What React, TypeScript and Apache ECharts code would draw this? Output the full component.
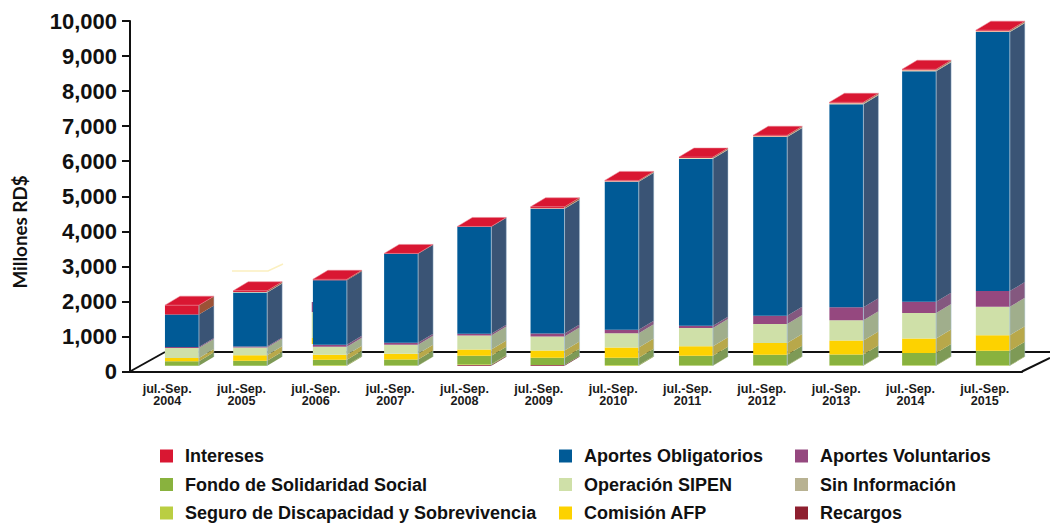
import React, { useEffect, useRef } from "react";
import * as echarts from "echarts";

const categories = ["2004","2005","2006","2007","2008","2009","2010","2011","2012","2013","2014","2015"];
const recargos = [0,0,0,0,25,25,0,0,0,0,0,0];
const seguro = [0,0,20,10,20,0,20,10,15,15,15,15];
const fondo = [130,143,150,170,240,203,208,275,300,308,347,413];
const comision = [95,160,143,162,180,209,295,276,333,400,418,447];
const operacion = [285,220,228,257,400,400,409,514,542,580,723,809];
const voluntarios = [25,28,57,57,48,86,95,66,238,371,323,447];
const obligatorios = [930,1540,1845,2540,3053,3558,4223,4765,5100,5790,6580,7390];
const sinInformacion = [0,15,0,0,0,15,15,20,20,25,25,25];
const intereses = [265,35,25,10,10,40,25,30,30,30,30,30];

const FONT = '"Liberation Sans", Arial, sans-serif';
const DX = 15, DY = 9, BAR = 34;
// The reference's bars are not evenly spaced: horizontal nudge per bar, in pixels.
const barNudge = [0, -5.5, 0.5, -2, -2.5, -3, -2.5, -2, -1.5, 1, 0, 0];

const stack = [
  { name: "Recargos", values: recargos, color: "#8E1F2F", side: "#6E2A30" },
  { name: "Seguro de Discapacidad y Sobrevivencia", values: seguro, color: "#BACE42", side: "#8FA048" },
  { name: "Fondo de Solidaridad Social", values: fondo, color: "#89B23E", side: "#7E9A56" },
  { name: "Comisión AFP", values: comision, color: "#FDD200", side: "#B8A84A" },
  { name: "Operación SIPEN", values: operacion, color: "#CFE0A8", side: "#A0AE8C" },
  { name: "Aportes Voluntarios", values: voluntarios, color: "#95487F", side: "#84587F" },
  { name: "Aportes Obligatorios", values: obligatorios, color: "#005A96", side: "#3A5475" },
  { name: "Sin Información", values: sinInformacion, color: "#B8B292", bar: "#EFE3B4", side: "#B8AE8C" },
  { name: "Intereses", values: intereses, color: "#D91732", side: "#9C5236" },
];
const legendCols = [
  { left: 160, names: ["Intereses", "Fondo de Solidaridad Social", "Seguro de Discapacidad y Sobrevivencia"] },
  { left: 559, names: ["Aportes Obligatorios", "Operación SIPEN", "Comisión AFP"] },
  { left: 795, names: ["Aportes Voluntarios", "Sin Información", "Recargos"] },
];

function buildSeries() {
  const lows = categories.map(() => 0);
  return stack.map((s, si) => {
    const data = s.values.map((v, i) => {
      const row = [i, lows[i], lows[i] + v];
      lows[i] += v;
      return row;
    });
    const isTop = si === stack.length - 1;
    return {
      type: "custom",
      name: s.name,
      xAxisIndex: 1,
      yAxisIndex: 1,
      z: 3,
      itemStyle: { color: s.color },
      encode: { x: 0, y: [1, 2] },
      data,
      silent: true,
      renderItem: (_p: any, api: any) => {
        const i = api.value(0), lo = api.value(1), hi = api.value(2);
        if (hi <= lo) return { type: "group", children: [] };
        const [cx0, y0] = api.coord([i, lo]);
        const [, y1] = api.coord([i, hi]);
        const cx = cx0 + barNudge[i];
        const l = cx - BAR / 2, r = cx + BAR / 2;
        const children: any[] = [
          { type: "polygon", shape: { points: [[l, y0], [r, y0], [r, y1], [l, y1]] }, style: { fill: s.bar || s.color } },
          { type: "polygon", shape: { points: [[r, y0], [r + DX, y0 - DY], [r + DX, y1 - DY], [r, y1]] }, style: { fill: s.side } },
          { type: "line", shape: { x1: r, y1: y0, x2: r, y2: y1 }, style: { stroke: "rgba(170,195,215,0.75)", lineWidth: 1 } },
          { type: "line", shape: { x1: r + DX, y1: y0 - DY, x2: r + DX, y2: y1 - DY }, style: { stroke: "rgba(170,195,215,0.45)", lineWidth: 1 } },
        ];
        if (isTop) {
          children.push({
            type: "polygon",
            shape: { points: [[l, y1], [r, y1], [r + DX, y1 - DY], [l + DX, y1 - DY]] },
            style: { fill: s.color, stroke: "rgba(235,130,145,0.7)", lineWidth: 0.75 },
          });
        }
        return { type: "group", children };
      },
    };
  });
}

function seg(x1: number, y1: number, x2: number, y2: number, stroke: string, lineWidth: number) {
  return { type: "line", z: 0, silent: true, shape: { x1, y1, x2, y2 }, style: { stroke, lineWidth } };
}

export default function App() {
  const ref = useRef<HTMLDivElement>(null);
  useEffect(() => {
    document.body.style.margin = "0";
    const chart = echarts.init(ref.current!, undefined, { renderer: "svg" });
    chart.setOption({
      animation: false,
      grid: [
        { left: 130, width: 892, top: 21, height: 350.5 },
        { left: 145.1, width: 884.6, top: 15.3, height: 350.5 },
      ],
      xAxis: [
        {
          type: "category", gridIndex: 0, data: categories,
          axisLine: { lineStyle: { color: "#111", width: 2 } },
          axisTick: { length: 8, lineStyle: { color: "#111", width: 2 } },
          axisLabel: {
            formatter: (v: string) => "jul.-Sep.\n" + v,
            fontFamily: FONT, fontWeight: "bold", fontSize: 12.6, lineHeight: 12, color: "#1a1a1a", margin: 11.5, interval: 0,
          },
        },
        { type: "category", gridIndex: 1, data: categories, show: false },
      ],
      yAxis: [
        {
          type: "value", gridIndex: 0, min: 0, max: 10000, interval: 1000,
          axisLine: { show: true, lineStyle: { color: "#111", width: 2 } },
          axisTick: { show: true, length: 8, lineStyle: { color: "#111", width: 2 } },
          splitLine: { show: false },
          axisLabel: {
            formatter: (v: number) => v.toLocaleString("en-US"),
            fontFamily: FONT, fontWeight: "bold", fontSize: 22, color: "#111", margin: 13,
          },
        },
        { type: "value", gridIndex: 1, min: 0, max: 10000, interval: 1000, show: false },
      ],
      legend: legendCols.map((c) => ({
        left: c.left, top: 447, height: 150, width: 400, padding: 0, orient: "vertical", selectedMode: false,
        itemWidth: 13, itemHeight: 13, itemGap: 10.5, icon: "rect",
        textStyle: { fontFamily: FONT, fontWeight: "bold", fontSize: 18, color: "#111", padding: [0, 0, 0, 7] },
        data: c.names,
      })),
      graphic: [
        seg(130, 371.5, 165, 352, "#111", 2),
        seg(165, 352, 1050, 352, "#111", 2),
        seg(1022, 371.5, 1050, 358, "#111", 2),
        { type: "polyline", z: 0, silent: true, shape: { points: [[232, 271], [268, 271], [283, 264]] }, style: { stroke: "#FBF0C0", lineWidth: 1.5, fill: "none" } },
        seg(312.5, 302, 312.5, 312, "#95487F", 1.5),
        seg(312.5, 312, 312.5, 338, "#CFE0A8", 1.5),
        seg(312.5, 338, 312.5, 344, "#FDD200", 1.5),
        {
          type: "text", x: 19, y: 232, rotation: Math.PI / 2, silent: true,
          style: { text: "Millones RD$", fontFamily: "Lato, sans-serif", fontWeight: "bold", fontSize: 18.8, fill: "#111", textAlign: "center", textVerticalAlign: "middle" },
        },
      ],
      series: buildSeries(),
    });
    return () => chart.dispose();
  }, []);
  return <div ref={ref} style={{ width: 1050, height: 523 }} />;
}
